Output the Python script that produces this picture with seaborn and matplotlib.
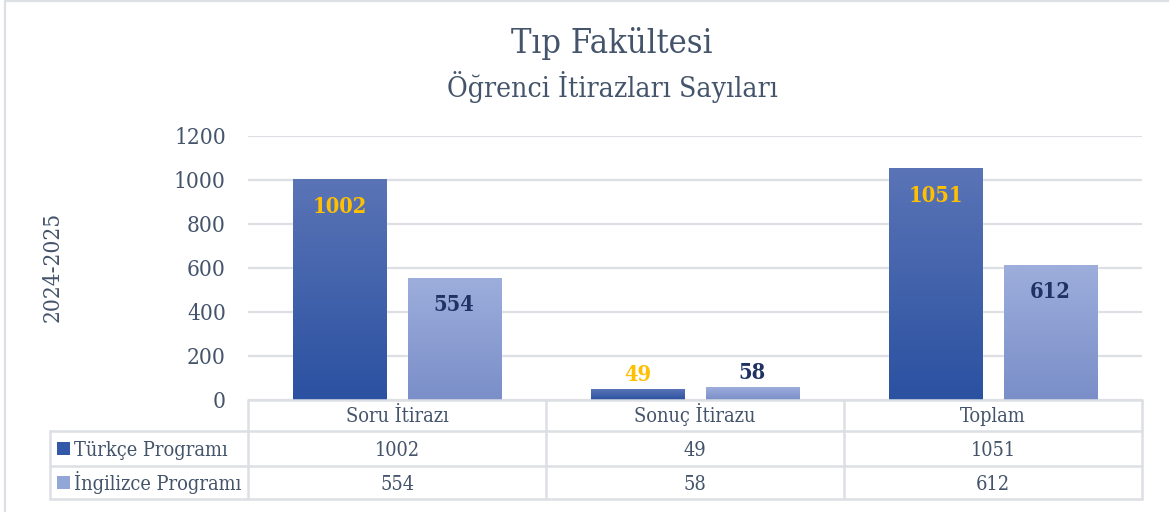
import numpy as np
import pandas as pd
import matplotlib
matplotlib.use("Agg")
import matplotlib.pyplot as plt
import matplotlib.transforms as mtransforms
from matplotlib import font_manager as fm
from matplotlib.lines import Line2D
from matplotlib.patches import Rectangle
import seaborn as sns

categories = ["Soru İtirazı", "Sonuç İtirazu", "Toplam"]
series_names = ["Türkçe Programı", "İngilizce Programı"]
turkce = [1002, 49, 1051]
ingilizce = [554, 58, 612]
yticks = [0, 200, 400, 600, 800, 1000, 1200]
title = "Tıp Fakültesi"
subtitle = "Öğrenci İtirazları Sayıları"
ylabel = "2024-2025"

df = pd.DataFrame({
    "Kategori": categories * 2,
    "Program": [series_names[0]] * 3 + [series_names[1]] * 3,
    "Değer": turkce + ingilizce,
})

sns.set_theme(style="white")
plt.rcParams["font.family"] = ["DejaVu Serif", "DejaVu Sans"]

# prefer condensed DejaVu Serif if available (closer to Cambria proportions)
reg_path = None
bold_path = None
for f in fm.fontManager.ttflist:
    base = f.fname.split("/")[-1]
    if base == "DejaVuSerifCondensed.ttf":
        reg_path = f.fname
    if base == "DejaVuSerifCondensed-Bold.ttf":
        bold_path = f.fname
if reg_path and bold_path:
    FP = fm.FontProperties(fname=reg_path)
    FPB = fm.FontProperties(fname=bold_path)
    K = 1.12
else:
    FP = fm.FontProperties(family="DejaVu Serif")
    FPB = fm.FontProperties(family="DejaVu Serif", weight="bold")
    K = 1.0

def fp(size, bold=False):
    p = (FPB if bold else FP).copy()
    p.set_size(size * K)
    return p

TXT = "#44546A"
GRID = "#DCDFE4"

W, H = 1169, 512
fig = plt.figure(figsize=(W / 100, H / 100), dpi=100)
ax = fig.add_axes([248 / W, 112 / H, (1142 - 248) / W, (400 - 136) / H])

top_cols = ["#5A74B6", "#9DAEDC"]
bot_cols = ["#2B51A1", "#7A8EC8"]
mid_cols = ["#3A60B0", "#8C9FD3"]

sns.barplot(data=df, x="Kategori", y="Değer", hue="Program", order=categories,
            hue_order=series_names, palette=mid_cols, width=0.768, gap=0.185,
            ax=ax, legend=False, zorder=3)

ax.set_xlim(-0.5, 2.5)
ax.set_ylim(0, 1200)
ax.set_yticks(yticks)
ax.set_yticklabels([str(v) for v in yticks], color=TXT, fontproperties=fp(14.5))
ax.tick_params(axis="y", length=0, pad=16)
ax.set_xticks([])
ax.set_xlabel("")
ax.set_ylabel("")
for s in ax.spines.values():
    s.set_visible(False)
ax.yaxis.grid(True, color=GRID, linewidth=1.6, zorder=0)
ax.set_axisbelow(True)

# gradient fill for each bar
n = len(categories)
bars = list(ax.patches[: 2 * n])
for i, p in enumerate(bars):
    h = i // n
    x0, y0 = p.get_x(), p.get_y()
    w, hgt = p.get_width(), p.get_height()
    c_top = np.array(matplotlib.colors.to_rgb(top_cols[h]))
    c_bot = np.array(matplotlib.colors.to_rgb(bot_cols[h]))
    t = np.linspace(0, 1, 128)[:, None]
    grad = (c_top[None, :] * (1 - t) + c_bot[None, :] * t)[:, None, :]
    ax.imshow(grad, extent=(x0, x0 + w, y0, y0 + hgt), aspect="auto",
              origin="upper", zorder=3.5, interpolation="bilinear")
ax.set_xlim(-0.5, 2.5)
ax.set_ylim(0, 1200)

# data labels
lab_cols = ["#FFC000", "#1F3263"]
for i, p in enumerate(bars):
    h = i // n
    v = p.get_height()
    cx = p.get_x() + p.get_width() / 2
    dy = -27 / 100 if v > 200 else 14 / 100
    tr = ax.transData + mtransforms.ScaledTranslation(0, dy, fig.dpi_scale_trans)
    ax.text(cx, v, f"{int(v)}", transform=tr, ha="center", va="center",
            color=lab_cols[h], fontproperties=fp(14, bold=True), zorder=5)

def fy(y):
    return 1 - y / H

fig.text(612 / W, fy(53), title, ha="center", va="baseline", color=TXT,
         fontproperties=fp(22))
fig.text(612 / W, fy(97), subtitle, ha="center", va="baseline", color=TXT,
         fontproperties=fp(18.2))
fig.text(53 / W, fy(267), ylabel, ha="center", va="center", rotation=90,
         color=TXT, fontproperties=fp(14.5))

# data table
bt = mtransforms.blended_transform_factory(ax.transData, fig.transFigure)
LW = 1.8
def hline(x0, x1, y):
    fig.add_artist(Line2D([x0 / W, x1 / W], [fy(y), fy(y)], color=GRID, lw=LW,
                          transform=fig.transFigure, zorder=1))
def vline_px(x, y0, y1):
    fig.add_artist(Line2D([x / W, x / W], [fy(y0), fy(y1)], color=GRID, lw=LW,
                          transform=fig.transFigure, zorder=1))
def vline_data(xd, y0, y1):
    fig.add_artist(Line2D([xd, xd], [fy(y0), fy(y1)], color=GRID, lw=LW,
                          transform=bt, zorder=1))

hline(248, 1142, 400)
for y in (431, 466, 499):
    hline(50, 1142, y)
vline_px(50, 431, 499)
for xd in (-0.5, 0.5, 1.5, 2.5):
    vline_data(xd, 400, 499)

TS = 12.8
for j, c in enumerate(categories):
    fig.text(j, fy(422), c, transform=bt, ha="center", va="baseline",
             color=TXT, fontproperties=fp(TS))
    fig.text(j, fy(456), str(turkce[j]), transform=bt, ha="center", va="baseline",
             color=TXT, fontproperties=fp(TS))
    fig.text(j, fy(490), str(ingilizce[j]), transform=bt, ha="center", va="baseline",
             color=TXT, fontproperties=fp(TS))

key_cols = ["#3358A8", "#93A6D8"]
for r, (name, yb) in enumerate(zip(series_names, (456, 490))):
    fig.add_artist(Rectangle((57 / W, fy(yb - 1)), 13 / W, 13 / H,
                             transform=fig.transFigure, facecolor=key_cols[r],
                             edgecolor="none"))
    fig.text(74 / W, fy(yb), name, ha="left", va="baseline", color=TXT,
             fontproperties=fp(TS))

# chart frame
fig.add_artist(Line2D([5 / W, 5 / W], [0, fy(1)], color=GRID, lw=1.6,
                      transform=fig.transFigure))
fig.add_artist(Line2D([5 / W, 1], [fy(1), fy(1)], color=GRID, lw=1.6,
                      transform=fig.transFigure))

fig.savefig("out.png", dpi=100)
